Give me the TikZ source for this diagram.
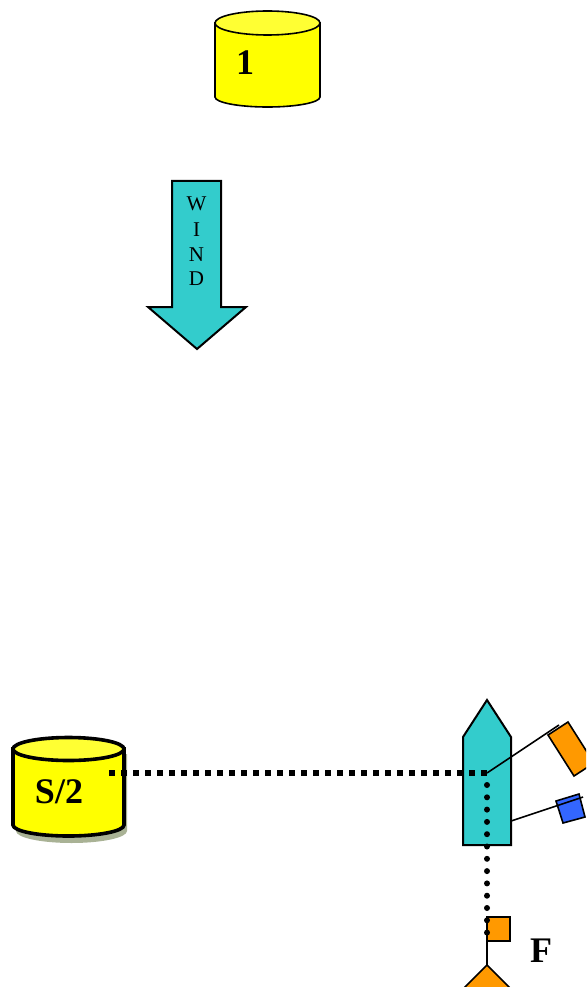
\documentclass[tikz,border=0pt]{standalone}
\usepackage{fontspec}
\setmainfont{Liberation Serif}
\usetikzlibrary{positioning}
\definecolor{tankyellow}{HTML}{FFFF00}
\definecolor{tanktop}{HTML}{FFFF33}
\definecolor{hullteal}{HTML}{33CCCC}
\definecolor{sailorange}{HTML}{FF9900}
\definecolor{sailblue}{HTML}{3366FF}
\definecolor{tankshadow}{HTML}{A9B295}
\tikzset{
    biglabel/.style={font=\fontsize{36}{36}\selectfont\bfseries, inner sep=0pt, anchor=base},
    windlabel/.style={font=\fontsize{21}{25}\selectfont, inner sep=0pt, anchor=base},
    thinline/.style={draw=black, line width=1.6pt, line join=miter},
    rope/.style={draw=black, line width=1.6pt},
}
\begin{document}
\begin{tikzpicture}[x=1pt, y=-1pt]
    \useasboundingbox (0,0) rectangle (586,987);
    \clip (0,0) rectangle (586,987);

        % Mark 1 at the top
        \draw[thinline, fill=tankyellow] (215,23) -- (215,97) arc[start angle=180, end angle=360, x radius=52.5pt, y radius=10pt] -- (320,23) -- cycle;
        \draw[thinline, fill=tanktop] (267.5,23) ellipse [x radius=52.5pt, y radius=12pt];
        \node (mark1) [biglabel] at (245,75) {1};

        % Wind arrow
        \draw[thinline, line width=2pt, fill=hullteal] (172,181) -- (221,181) -- (221,307) -- (246,307) -- (197,349) -- (148,307) -- (172,307) -- cycle;
        \node (w1) [windlabel] at (196.5,211) {W};
        \node (w2) [windlabel] at (196.5,236) {I};
        \node (w3) [windlabel] at (196.5,261) {N};
        \node (w4) [windlabel] at (196.5,285) {D};

        % Mark S/2 on the left
        \fill[tankshadow] (16,754) -- (16,831) arc[start angle=180, end angle=360, x radius=55.5pt, y radius=12pt] -- (127,754) -- cycle;
        \draw[line width=3.6pt, fill=tankyellow] (13,749) -- (13,825) arc[start angle=180, end angle=360, x radius=55.5pt, y radius=11pt] -- (124,749) -- cycle;
        \draw[line width=3.6pt, fill=tanktop] (68.5,749) ellipse [x radius=55.5pt, y radius=11.5pt];
        \node (marks2) [biglabel] at (59,803) {S/2};
        \coordinate (s2port) at (109,773);

        % Boat
        \draw[thinline, line width=2pt, fill=hullteal] (463,845) -- (463,737) -- (487,700) -- (511,737) -- (511,845) -- cycle;
        \coordinate (mast) at (487,773);
        \coordinate (hullside) at (511,821);

        % Orange sail
        \coordinate (sailtip) at (559,725);
        \draw[thinline, fill=sailorange] (548,735) -- (568,722) -- (594,763) -- (574,776) -- cycle;
        \draw[rope] (mast) -- (sailtip);

        % Blue sail
        \coordinate (bluetip) at (583,797);
        \draw[thinline, fill=sailblue] (556,801) -- (579,794) -- (585,817) -- (563,823) -- cycle;
        \draw[rope] (hullside) -- (bluetip);

        % Flag and buoy at the bottom
        \coordinate (flagtop) at (487,917);
        \coordinate (buoytop) at (487,965);
        \draw[thinline, fill=sailorange] (flagtop) rectangle (510,941);
        \draw[thinline, fill=sailorange] (buoytop) -- (522,1000) -- (452,1000) -- cycle;
        \draw[rope] (flagtop) -- (buoytop);
        \node (flagF) [biglabel] at (541,962) {F};

        % Dotted sight lines
        \draw[line width=5.6pt, dash pattern=on 6pt off 6pt] (s2port) -- (mast);
        \draw[line width=6pt, line cap=round, dash pattern=on 0pt off 12.3pt] (487,785) -- (487,935);

\end{tikzpicture}
\end{document}
